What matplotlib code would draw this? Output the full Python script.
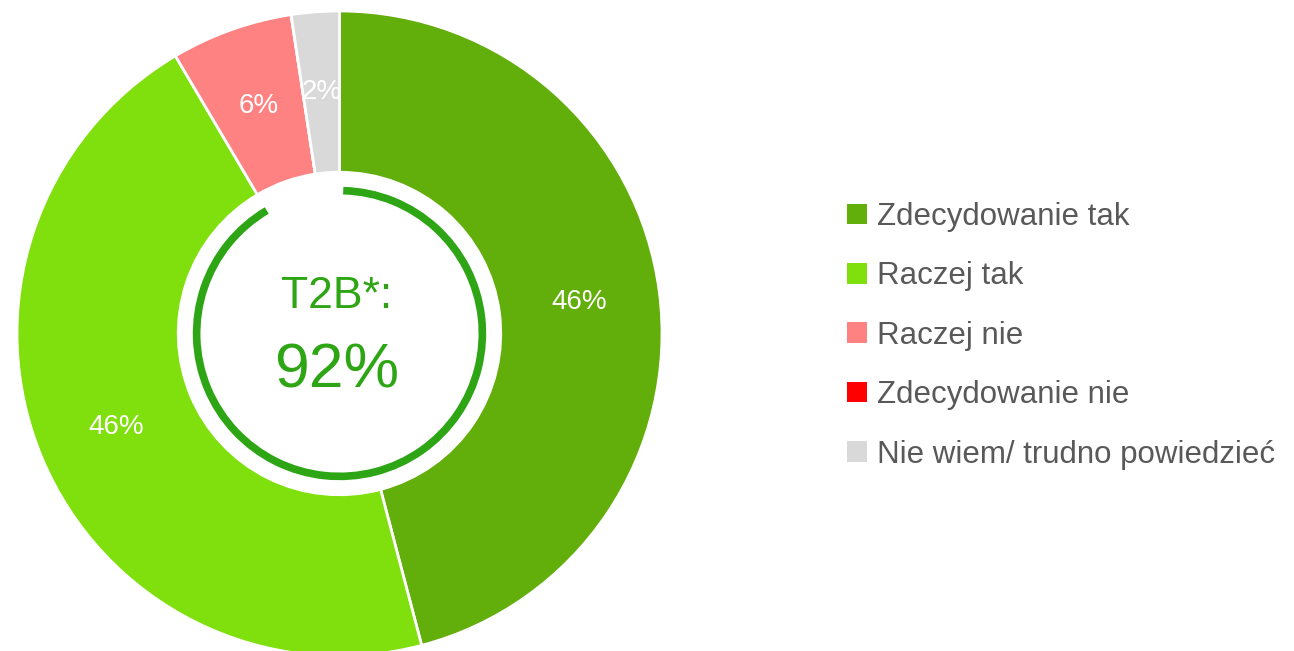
import numpy as np
import matplotlib.pyplot as plt
from matplotlib.patches import Arc, Patch

plt.rcParams['font.family'] = ['Liberation Sans', 'DejaVu Sans']

# data
categories = ['Zdecydowanie tak', 'Raczej tak', 'Raczej nie', 'Zdecydowanie nie', 'Nie wiem/ trudno powiedzieć']
values = [45.9, 45.6, 6.1, 0, 2.4]
colors = ['#62AE0A', '#7FE00D', '#FF8282', '#FF0000', '#D9D9D9']
t2b_label = 'T2B*:'
t2b_text = '92%'

W, H = 1294, 651
fig = plt.figure(figsize=(W / 100, H / 100), dpi=100)

# donut axes, center (339.5, 333.5) px from top, radius 322.5 px
cx, cy, R = 339.5, 333.5, 322.5
ax = fig.add_axes([(cx - R) / W, (H - cy - R) / H, 2 * R / W, 2 * R / H])

wedges, _ = ax.pie(values, colors=colors, startangle=90, counterclock=False,
                   radius=1, wedgeprops=dict(width=0.5, edgecolor='white', linewidth=2))
ax.set_xlim(-1, 1)
ax.set_ylim(-1, 1)
ax.set_aspect('equal')
ax.axis('off')

# percentage labels, clipped to their wedge
total = sum(values)
cum = 0
for w, v in zip(wedges, values):
    mid = cum + v / 2
    cum += v
    if v == 0:
        continue
    ang = np.deg2rad(90 - 360 * mid / total)
    t = ax.text(0.75 * np.cos(ang), 0.75 * np.sin(ang), f'{v:.0f}%', color='white',
                fontsize=20, ha='center', va='center')
    t.set_clip_path(w)

# inner T2B arc (top two boxes)
ring_color = '#2EA514'
t2b_share = (values[0] + values[1]) / total
gap = 1.5
arc = Arc((0, 0), 2 * 0.443, 2 * 0.443, theta1=90 - 360 * t2b_share,
          theta2=90 - gap, color=ring_color, linewidth=5.5, capstyle='butt')
ax.add_patch(arc)

ax.text(-0.01, 0.115, t2b_label, color=ring_color, fontsize=32, ha='center', va='center')
ax.text(-0.01, -0.115, t2b_text, color=ring_color, fontsize=45, ha='center', va='center')

handles = [Patch(facecolor=c, edgecolor='none') for c in colors]
fig.legend(handles, categories, loc='upper left', bbox_to_anchor=(847 / W, 1 - 202 / H),
           frameon=False, fontsize=22.5, labelcolor='#595959', borderpad=0, borderaxespad=0,
           handlelength=0.64, handleheight=0.64, handletextpad=0.32, labelspacing=0.94)

fig.savefig('out.png', dpi=100)
